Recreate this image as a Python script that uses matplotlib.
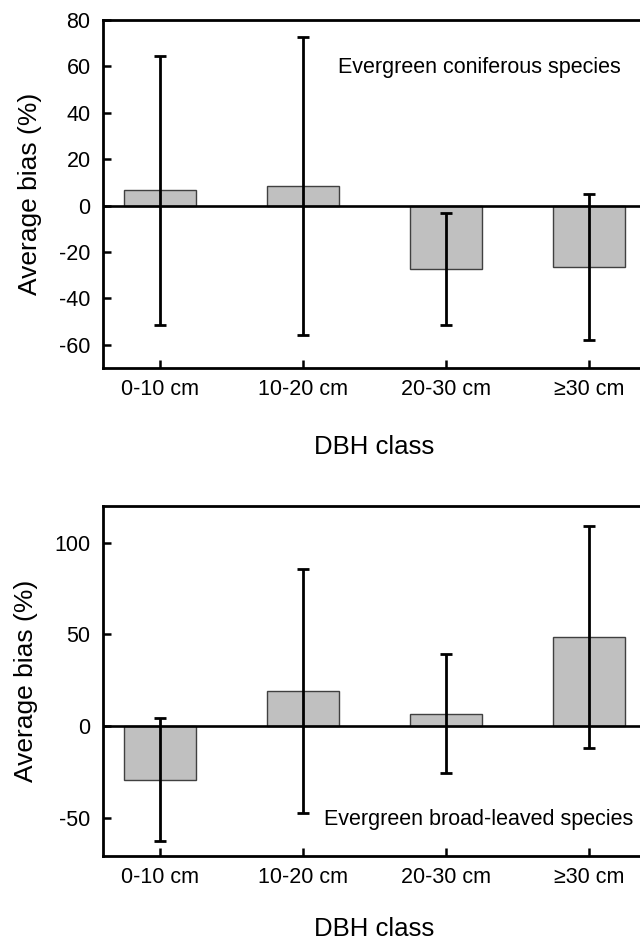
import matplotlib
matplotlib.use("Agg")
import matplotlib.pyplot as plt
import numpy as np

plt.rcParams['font.family'] = ['Liberation Sans', 'DejaVu Sans']

categories = ["0-10 cm", "10-20 cm", "20-30 cm", "\u226530 cm"]
conif_mean = [6.6, 8.3, -27.3, -26.6]
conif_sd = [58.0, 64.2, 24.0, 31.5]
broad_mean = [-29.3, 19.1, 6.7, 48.6]
broad_sd = [33.7, 66.6, 32.5, 60.5]

W, H = 640, 943
fig = plt.figure(figsize=(W / 100, H / 100), dpi=100)

left_px = 103
right_px = 646
XLIM = (-0.4, 3.4)


def make_panel(top_px, bot_px, means, sds, ylim, yticks, label, label_xy, xlabelpad):
    ax = fig.add_axes([left_px / W, 1 - bot_px / H, (right_px - left_px) / W, (bot_px - top_px) / H])
    x = np.arange(len(categories))
    ax.bar(x, means, width=0.5, color="#c0c0c0", edgecolor="#404040", linewidth=1.0, zorder=2)
    ax.errorbar(x, means, yerr=sds, fmt="none", ecolor="black", elinewidth=2.0,
                capsize=4, capthick=2.0, zorder=3)
    ax.axhline(0, color="black", linewidth=1.9, zorder=4)
    ax.set_xlim(*XLIM)
    ax.set_ylim(*ylim)
    ax.set_yticks(yticks)
    ax.set_yticklabels([str(t) for t in yticks])
    ax.set_xticks(x)
    ax.set_xticklabels(categories)
    for s in ["top", "left", "bottom", "right"]:
        ax.spines[s].set_linewidth(2.0)
    ax.tick_params(axis="both", labelsize=15.5, width=1.8, length=6, direction="in")
    ax.tick_params(axis="y", pad=9)
    ax.tick_params(axis="x", pad=8)
    ax.set_ylabel("Average bias (%)", fontsize=19, labelpad=12)
    ax.set_xlabel("DBH class", fontsize=18.5, labelpad=xlabelpad)
    ax.text(label_xy[0], label_xy[1], label, fontsize=15.5, ha="left", va="center")
    return ax


make_panel(20, 368, conif_mean, conif_sd, (-70, 80), [-60, -40, -20, 0, 20, 40, 60, 80],
           "Evergreen coniferous species", (1.245, 59.6), 25)
make_panel(506, 856, broad_mean, broad_sd, (-71, 120), [-50, 0, 50, 100],
           "Evergreen broad-leaved species", (1.147, -51), 21)

fig.savefig("out.png", dpi=100)
